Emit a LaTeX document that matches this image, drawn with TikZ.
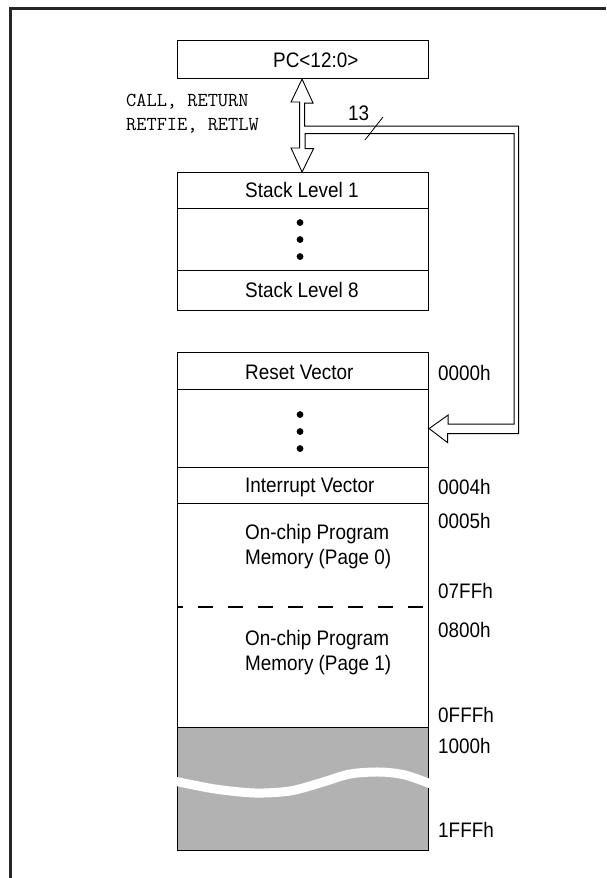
\documentclass[tikz,border=0pt]{standalone}
\usepackage{fontspec}
\setmainfont{Liberation Sans}[FakeStretch=0.9]
\usetikzlibrary{calc}

\begin{document}
\begin{tikzpicture}[x=1pt, y=-1pt, line join=miter]
\useasboundingbox (0, 0) rectangle (606, 878);
\draw [line width=2.8pt, black!85] (10.5, 878) -- (10.5, 8.3) -- (606, 8.3);

\begin{scope}[every node/.style={rectangle,draw,line width=1.1pt,inner sep=0pt,minimum width=251pt,anchor=north west}]
    \node (pc) at (177, 40) [minimum height=38pt] {};

    \node (lvl1) at (177, 172) [minimum height=36pt] {};
    \node (lvlx) at (177, 208) [minimum height=62pt] {};
    \node (lvl8) at (177, 270) [minimum height=40pt] {};

    \node (rvec) at (177, 352) [minimum height=37pt] {};
    \node (skip) at (177, 389) [minimum height=78pt] {};
    \node (ivec) at (177, 467) [minimum height=36pt] {};
    \node (prog) at (177, 503) [minimum height=224pt] {};
    \node (ext) at (177, 727) [minimum height=123pt, fill=black!30] {};
\end{scope}

% break in the unimplemented area
\draw [white, line width=9pt] plot [smooth] coordinates
    {(174, 781) (215, 789) (255, 793) (290, 791) (320, 783) (350, 774) (380, 772) (405, 775) (431, 784)};

\foreach \cell/\dy in {lvlx/0, skip/3}
    \foreach \d in {-17, 0, 17}
        \fill ($(\cell.center) + (-3, \dy + \d)$) circle (3.4pt);

\draw [line width=1.1pt, dash pattern=on 15pt off 15pt, dash phase=9pt]
    ($(prog.north west) + (0, 104)$) -- ($(prog.north east) + (0, 104)$);

% stack bus and 13-bit path into memory
\draw [line width=0.9pt, fill=white] ($(pc.south) + (-1, 0)$) -- ++(11, 24) -- ++(-8.5, 0)
    -- ++(0, 23) -- ++(214, 0) -- ++(0, 307.5) -- ++(-71, 0) -- ++(0, 9)
    -- (skip.east) -- ++(19, -13.5) -- ++(0, 9) -- ++(66, 0) -- ++(0, -290.5)
    -- ++(-209, 0) -- ++(0, 15) -- ++(8.5, 0) -- ($(lvl1.north) + (-1, 0)$)
    -- ++(-11, -24) -- ++(8.5, 0) -- ++(0, -46) -- ++(-8.5, 0) -- cycle;
\draw [line width=0.8pt] (365, 140) -- (383, 117);

\begin{scope}[every node/.style={anchor=base west, inner sep=0pt, font=\fontsize{21}{25}\selectfont}]
    \node (pcname) at (273, 67.5) {PC<12:0>};
    \node (width) at (348, 120) {13};

    \node (l1) at (245, 197) {Stack Level 1};
    \node (l8) at (245, 297) {Stack Level 8};

    \node (rname) at (245, 379.5) {Reset Vector};
    \node (iname) at (245, 492.5) {Interrupt Vector};
    \node (p0a) at (245, 539.5) {On-chip Program};
    \node (p0b) at (245, 564.5) {Memory (Page 0)};
    \node (p1a) at (245, 645.5) {On-chip Program};
    \node (p1b) at (245, 670.5) {Memory (Page 1)};

    \node (a0000) at (438, 380.5) {0000h};
    \node (a0004) at (438, 494.5) {0004h};
    \node (a0005) at (438, 528.5) {0005h};
    \node (a07ff) at (438, 598.5) {07FFh};
    \node (a0800) at (438, 637.5) {0800h};
    \node (a0fff) at (438, 722.5) {0FFFh};
    \node (a1000) at (438, 753.5) {1000h};
    \node (a1fff) at (438, 837.5) {1FFFh};
\end{scope}

\begin{scope}[every node/.style={anchor=base west, inner sep=0pt, font=\ttfamily\fontsize{19.8}{23}\selectfont}]
    \node (ops1) at (126, 106.5) {CALL, RETURN};
    \node (ops2) at (126, 130) {RETFIE, RETLW};
\end{scope}
\end{tikzpicture}
\end{document}
